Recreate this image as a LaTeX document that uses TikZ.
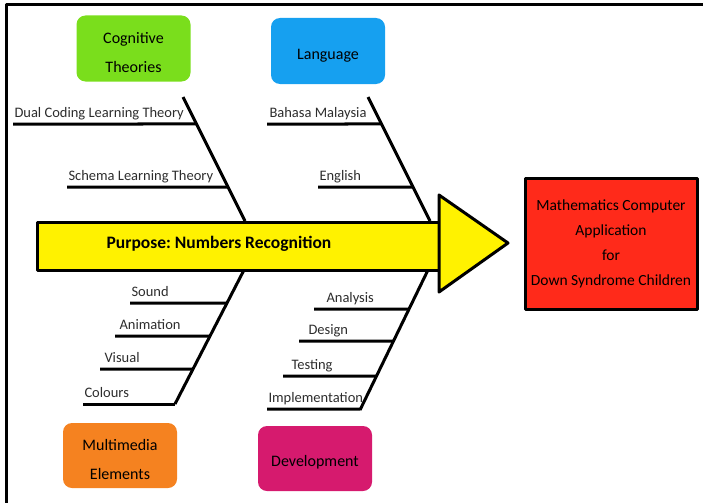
\documentclass[tikz,border=0pt]{standalone}
\usepackage{fontspec}
\setmainfont{Carlito}
\usetikzlibrary{positioning,calc}
\frenchspacing

\definecolor{cogGreen}{RGB}{122,222,28}
\definecolor{lanBlue}{RGB}{22,160,240}
\definecolor{mulOrange}{RGB}{245,130,32}
\definecolor{devPink}{RGB}{214,26,110}
\definecolor{goalRed}{RGB}{255,42,26}
\definecolor{labelGrey}{RGB}{45,45,45}

\tikzset{
  catbox/.style={rounded corners=9pt,minimum width=114pt,minimum height=66pt,
    align=center,text=black,text height=19pt,font=\fontsize{16}{29}\selectfont},
  twolines/.style={text height=49pt},
  bone/.style={line width=3pt},
  riblabel/.style={anchor=base west,inner sep=0pt,yshift=7pt,text=labelGrey,
    font=\fontsize{14.5}{16}\selectfont}
}

\begin{document}
\begin{tikzpicture}[x=1pt,y=-1pt,line join=round]
\useasboundingbox (0,0) rectangle (703,503);
% frame (top and left edges only)
\draw[line width=3pt] (703,4.5) -- (6.5,4.5) -- (6.5,503);

% category boxes
\node[catbox,twolines,fill=cogGreen] (cog) at (133.5,48.5) {Cognitive\\Theories};
\node[catbox,fill=lanBlue] (lan) at (328,51) {Language};
\node[catbox,twolines,fill=mulOrange,minimum height=65pt] (mul) at (120,455.5) {Multimedia\\Elements};
\node[catbox,fill=devPink,minimum height=65pt] (dev) at (315,458.5) {Development};

% effect box
\node[draw,line width=3pt,fill=goalRed,minimum width=172pt,minimum height=131pt,
  align=center,text=black,font=\fontsize{15.5}{25}\selectfont] (goal) at (611,243.5)
  {Mathematics Computer\\Application\\for\\Down Syndrome Children};

% main arrow
\draw[line width=3pt,fill=yellow] (37,222) rectangle (440,270);
\draw[line width=3pt,fill=yellow] (439,195) -- (508,243) -- (439,292) -- cycle;
\node[font=\fontsize{17.5}{20}\selectfont\bfseries] (purp) at (219,244) {Purpose: Numbers Recognition};

% spines
\coordinate (cogTop) at (183,97);  \coordinate (cogEnd) at (245,221);
\coordinate (lanTop) at (368,97);  \coordinate (lanEnd) at (430,221);
\coordinate (mulTop) at (244,270); \coordinate (mulEnd) at (175,404);
\coordinate (devTop) at (428,270); \coordinate (devEnd) at (360,410);
\draw[bone] (cogTop) -- (cogEnd);
\draw[bone] (lanTop) -- (lanEnd);
\draw[bone] (mulTop) -- (mulEnd);
\draw[bone] (devTop) -- (devEnd);

% ribs: start x / label x / y / text
\foreach \sx/\lx/\y/\txt in {13/13/124/Dual Coding Learning Theory,
                             67/67/187/Schema Learning Theory}
  \draw[bone] (\sx,\y) -- ($(cogTop)!{(\y-97)/124}!(cogEnd)$)
    (\lx,\y) node[riblabel] {\txt};
\foreach \sx/\lx/\y/\txt in {267/268/124/Bahasa Malaysia,
                             318/318/187/English}
  \draw[bone] (\sx,\y) -- ($(lanTop)!{(\y-97)/124}!(lanEnd)$)
    (\lx,\y) node[riblabel] {\txt};
\foreach \sx/\lx/\y/\txt in {130/130/303/Sound,115/118/336/Animation,
                             100/103/369/Visual,83/83/404/Colours}
  \draw[bone] (\sx,\y) -- ($(mulTop)!{(\y-270)/134}!(mulEnd)$)
    (\lx,\y) node[riblabel] {\txt};
\foreach \sx/\lx/\y/\txt in {314/325/309/Analysis,299/307/341/Design,
                             283/290/376/Testing,267/267/409/Implementation}
  \draw[bone] (\sx,\y) -- ($(devTop)!{(\y-270)/140}!(devEnd)$)
    (\lx,\y) node[riblabel] {\txt};
\end{tikzpicture}
\end{document}
